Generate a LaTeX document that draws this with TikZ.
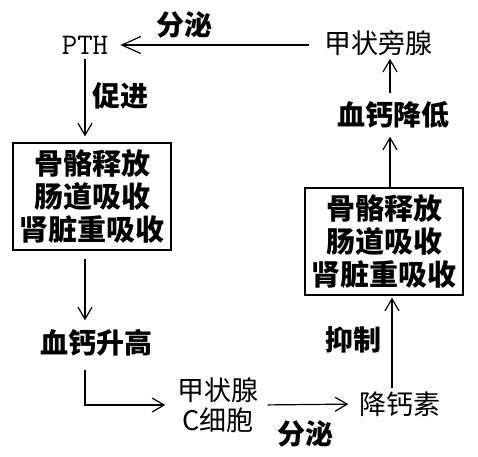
\documentclass[tikz,border=0pt]{standalone}
\usepackage{fontspec}
\newfontfamily\cjk{Noto Sans CJK SC}
\usetikzlibrary{arrows.meta}

\begin{document}
\begin{tikzpicture}[x=1pt, y=-1pt,
    every node/.style={inner sep=0pt, align=center},
    plain/.style={font=\cjk\fontsize{27}{30}\selectfont},
    heavy/.style={font=\cjk\bfseries\fontsize{28}{33}\selectfont},
    organbox/.style={draw, line width=1.2pt, minimum width=158pt, minimum height=107pt,
                     font=\cjk\bfseries\fontsize{29}{33}\selectfont},
    flow/.style={line width=1.2pt, -{Straight Barb[length=12pt, width=14pt, line width=1.2pt]}}]
            \useasboundingbox (0,0) rectangle (478,456);
            \fill[white] (0,0) rectangle (478,456);

            \node[font=\ttfamily\fontsize{30}{30}\selectfont] at (85, 45)   (pth) {PTH};
            \node[plain] at (378, 43)   (ptg) {甲状旁腺};
            \node[heavy] at (393, 115)  (low) {血钙降低};
            \node[organbox] at (384, 241.5) (box2) {骨骼释放\\肠道吸收\\肾脏重吸收};
            \node[organbox] at (92, 196.5)  (box1) {骨骼释放\\肠道吸收\\肾脏重吸收};
            \node[heavy] at (96, 343)   (rise) {血钙升高};
            \node[plain] at (218, 405)  (ccell) {甲状腺\\C细胞};
            \node[plain] at (400, 404)  (ct) {降钙素};

            % labels on the arrows
            \node[heavy] at (184, 25)   (sec1) {分泌};
            \node[heavy] at (120, 96)   (pro) {促进};
            \node[heavy] at (353, 340)  (inh) {抑制};
            \node[heavy] at (305, 434)  (sec2) {分泌};

            \draw [flow, -{Straight Barb[length=19pt, width=17pt, line width=1.2pt]},
                   shorten <=15pt, shorten >=12pt] (ptg.west |- pth) -- (pth.east);
            \draw [flow, shorten <=5pt, shorten >=6pt] (pth.south) -- (pth.south |- box1.north);
            \draw [flow, shorten <=8pt, shorten >=9pt] (pth |- box1.south) -- (pth |- rise.north);
            \draw [flow, shorten <=13pt, shorten >=12pt] (rise.south -| pth) |- (ccell.west);
            \draw [flow, shorten <=9pt, shorten >=11pt] (ccell.east) -- (ct.west);
            \draw [flow, shorten <=3pt, shorten >=2pt] ([xshift=-8pt]ct.north) -- ([xshift=-8pt]ct.north |- box2.south);
            \draw [flow, shorten >=8pt] ([xshift=6pt]box2.north) -- ([xshift=6pt]box2.north |- low.south);
            \draw [flow, shorten <=8pt, shorten >=3pt] ([xshift=-3pt]low.north) -- ([xshift=-3pt]low.north |- ptg.south);
        \end{tikzpicture}
\end{document}
